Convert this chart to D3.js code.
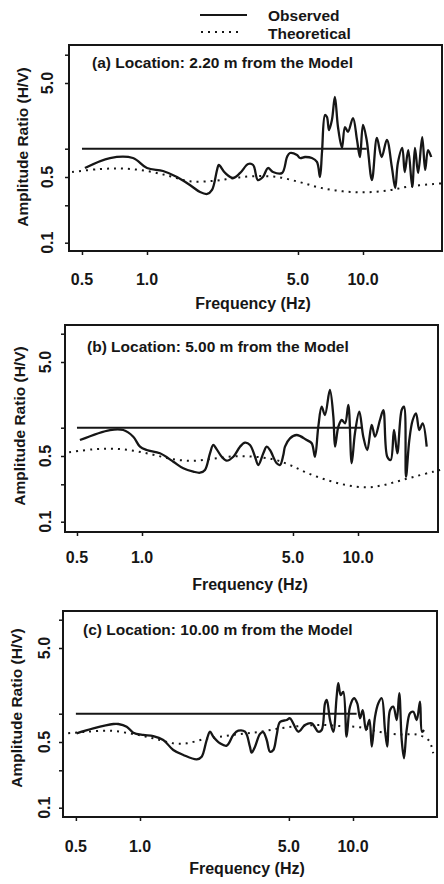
<!DOCTYPE html>
<html><head><meta charset="utf-8">
<script src="https://cdn.jsdelivr.net/npm/d3@7"></script>
<style>
body{margin:0;background:#fff}
text{font-family:"Liberation Sans",Arial,Helvetica,sans-serif;font-weight:bold;fill:#161616}
</style>
</head><body>
<svg id="chart" width="444" height="884"></svg>
<script>
// ---------- data ----------
const seriesNames = ["Observed", "Theoretical"];
const panelTitles = [
  "(a) Location: 2.20 m from the Model",
  "(b) Location: 5.00 m from the Model",
  "(c) Location: 10.00 m from the Model"
];
const xTitle = "Frequency (Hz)";
const yTitle = "Amplitude Ratio (H/V)";
const xTicks = [0.5, 1, 5, 10];
const xTickLabels = ["0.5", "1.0", "5.0", "10.0"];
const yTicks = [0.1, 0.25, 0.5, 1, 5, 10];
const yTickLabels = ["0.1", "", "0.5", "", "5.0", ""];

// horizontal reference line (H/V = 1)
const refFreq = [0.5, 10.4];
const refValue = [1, 1];

// (a) 2.20 m
const obsA_f = [0.516,0.674,0.861,1.0,1.186,1.377,1.58,1.76,1.90,2.0,2.11,2.15,2.30,2.50,2.70,2.94,3.10,3.26,3.44,3.63,3.83,4.22,4.45,4.59,4.95,5.11,5.39,5.80,6.12,6.32,6.46,6.67,6.81,6.96,7.18,7.41,7.66,7.99,8.25,8.52,8.99,9.38,9.68,10.0,10.4,11.0,11.6,12.2,12.9,13.6,14.1,14.5,15.2,15.6,16.2,16.9,17.4,18.0,18.8,19.4,20.0,20.7];
const obsA_v = [0.623,0.796,0.796,0.623,0.579,0.5,0.411,0.346,0.330,0.364,0.594,0.671,0.552,0.488,0.552,0.687,0.671,0.464,0.5,0.623,0.565,0.552,0.816,0.9,0.857,0.796,0.816,0.796,0.723,0.5,0.922,2.28,2.17,1.58,2.02,3.55,1.70,1.02,1.70,1.51,2.12,1.24,0.816,1.79,1.24,0.464,1.30,0.816,1.24,0.638,0.382,0.705,1.02,0.565,0.968,0.392,1.02,0.552,1.33,0.594,0.968,0.816];
const thA_f = [0.45,0.606,0.774,1.0,1.278,1.58,2.02,2.5,3.1,4.0,5.11,6.32,8.08,10.4,13.3,16.5,21.1,23.7];
const thA_v = [0.565,0.608,0.615,0.579,0.51,0.45,0.455,0.485,0.51,0.5,0.44,0.385,0.352,0.344,0.362,0.398,0.42,0.43];

// (b) 5.00 m
const obsB_f = [0.516,0.711,0.819,0.911,0.979,1.051,1.211,1.396,1.553,1.728,1.856,1.957,2.064,2.138,2.218,2.339,2.466,2.647,2.843,2.999,3.162,3.336,3.455,3.644,3.778,3.913,4.204,4.355,4.511,4.592,4.842,5.20,5.788,6.105,6.32,6.55,6.79,7.03,7.41,7.69,7.83,8.11,8.41,8.71,9.02,9.35,9.68,10.14,10.58,11.04,11.57,11.99,12.64,13.1,13.66,14.17,14.68,15.2,15.93,16.33,16.68,17.28,17.92,18.56,19.22,19.93,20.8];
const obsB_v = [0.740,0.945,0.945,0.802,0.628,0.579,0.534,0.435,0.370,0.341,0.332,0.355,0.534,0.655,0.589,0.491,0.446,0.491,0.628,0.693,0.655,0.491,0.401,0.534,0.628,0.579,0.418,0.401,0.512,0.628,0.771,0.836,0.740,0.683,0.491,1.025,1.672,1.365,2.518,1.309,0.628,1.025,1.208,1.114,1.744,0.418,0.872,1.48,0.802,0.579,1.069,0.802,1.208,1.542,0.491,0.453,0.945,0.534,1.542,1.672,0.301,0.740,1.208,1.422,0.945,1.114,0.628];
const thB_f = [0.46,0.595,0.736,0.912,1.128,1.396,1.728,2.14,2.65,3.27,4.05,4.84,5.79,7.16,8.87,10.97,13.1,15.6,18.7,22.3,24.0];
const thB_v = [0.547,0.589,0.598,0.569,0.516,0.461,0.445,0.468,0.495,0.492,0.461,0.401,0.332,0.278,0.245,0.232,0.245,0.273,0.306,0.340,0.355];

// (c) 10.00 m
const obsC_f = [0.504,0.604,0.750,0.791,0.866,0.930,1.036,1.154,1.286,1.433,1.597,1.846,1.948,2.056,2.132,2.209,2.375,2.553,2.742,2.894,3.111,3.281,3.342,3.467,3.659,3.793,3.935,4.077,4.226,4.383,4.540,4.883,5.06,5.54,5.95,6.40,6.87,7.13,7.39,7.53,7.80,8.08,8.38,8.53,8.75,9.0,9.33,9.68,10.11,10.47,10.79,11.11,11.51,11.94,12.25,12.69,13.15,13.64,14.13,14.49,14.92,15.46,16.04,16.49,16.93,17.35,17.86,18.52,19.19,19.91,20.63,21.09,21.55];
const obsC_v = [0.619,0.699,0.777,0.777,0.727,0.628,0.594,0.579,0.525,0.411,0.364,0.327,0.349,0.525,0.643,0.569,0.484,0.457,0.594,0.659,0.643,0.446,0.385,0.446,0.608,0.634,0.525,0.394,0.411,0.594,0.816,0.857,0.894,0.643,0.759,0.790,0.643,0.671,1.29,1.40,0.857,0.643,1.52,2.11,1.58,1.71,0.569,1.19,1.46,1.29,0.894,1.09,0.671,0.857,0.446,0.929,1.29,1.46,0.671,0.446,1.09,1.19,0.857,1.65,0.525,0.336,0.671,1.01,1.05,0.857,1.34,0.643,0.671];
const thC_f = [0.46,0.562,0.723,0.930,1.154,1.433,1.656,1.982,2.375,2.948,3.659,4.54,5.64,7.0,8.69,10.79,13.39,16.62,19.91,22.6,23.4,23.8];
const thC_v = [0.619,0.643,0.659,0.608,0.547,0.484,0.484,0.534,0.569,0.608,0.643,0.699,0.740,0.759,0.740,0.716,0.64,0.60,0.60,0.525,0.446,0.38];

// ---------- layout (drawing only) ----------
const panels = [
  {title: panelTitles[0], obsF: obsA_f, obsV: obsA_v, thF: thA_f, thV: thA_v,
   L: 69, R: 442, T: 45, B: 251, x1: 147, x10: 363, y05: 177, y5: 83,
   titleX: 92, titleY: 68, ylabX: 22, ylabY: 147, ytlX: 47, xtlY: 285, xtX: 253, xtY: 309},
  {title: panelTitles[1], obsF: obsB_f, obsV: obsB_v, thF: thB_f, thV: thB_v,
   L: 65, R: 438, T: 325, B: 532, x1: 142, x10: 358, y05: 456, y5: 362,
   titleX: 87, titleY: 352, ylabX: 19, ylabY: 426, ytlX: 45, xtlY: 563, xtX: 250, xtY: 590},
  {title: panelTitles[2], obsF: obsC_f, obsV: obsC_v, thF: thC_f, thV: thC_v,
   L: 63, R: 437, T: 611, B: 817, x1: 140, x10: 353, y05: 742, y5: 648,
   titleX: 83, titleY: 635, ylabX: 16, ylabY: 708, ytlX: 44, xtlY: 852, xtX: 247, xtY: 874}
];

const ink = "#161616";
const fs = 15.5;
const svg = d3.select("#chart");

// legend
const lg = svg.append("g");
lg.append("line").attr("x1", 200).attr("x2", 247).attr("y1", 15).attr("y2", 15)
  .attr("stroke", ink).attr("stroke-width", 1.8);
lg.append("line").attr("x1", 201).attr("x2", 243).attr("y1", 32).attr("y2", 32)
  .attr("stroke", ink).attr("stroke-width", 2).attr("stroke-dasharray", "2,5");
lg.append("text").attr("x", 268).attr("y", 21).attr("font-size", fs).text(seriesNames[0]);
lg.append("text").attr("x", 268).attr("y", 39).attr("font-size", fs).text(seriesNames[1]);

panels.forEach(p => {
  const x = d3.scaleLog().domain([1, 10]).range([p.x1, p.x10]);
  const y = d3.scaleLog().domain([0.5, 5]).range([p.y05, p.y5]);
  const g = svg.append("g");

  // frame
  g.append("rect").attr("x", p.L).attr("y", p.T).attr("width", p.R - p.L).attr("height", p.B - p.T)
    .attr("fill", "none").attr("stroke", ink).attr("stroke-width", 2);

  // y axis
  const ya = g.append("g").attr("transform", `translate(${p.L},0)`)
    .call(d3.axisLeft(y).tickValues(yTicks).tickSize(4).tickSizeOuter(0).tickFormat(""));
  ya.select(".domain").remove();
  ya.selectAll("line").attr("stroke", ink).attr("stroke-width", 1.5);
  yTicks.forEach((t, i) => {
    if (!yTickLabels[i]) return;
    g.append("text").attr("transform", `translate(${p.ytlX},${y(t)}) rotate(-90)`)
      .attr("text-anchor", "middle").attr("dominant-baseline", "central")
      .attr("font-size", 16).text(yTickLabels[i]);
  });

  // x axis
  const xa = g.append("g").attr("transform", `translate(0,${p.B})`)
    .call(d3.axisBottom(x).tickValues(xTicks).tickSize(4).tickSizeOuter(0).tickFormat(""));
  xa.select(".domain").remove();
  xa.selectAll("line").attr("stroke", ink).attr("stroke-width", 1.5);
  xTicks.forEach((t, i) => {
    g.append("text").attr("x", x(t)).attr("y", p.xtlY).attr("text-anchor", "middle")
      .attr("font-size", 16).text(xTickLabels[i]);
  });

  // axis titles
  g.append("text").attr("x", p.xtX).attr("y", p.xtY).attr("text-anchor", "middle")
    .attr("font-size", 16).text(xTitle);
  g.append("text").attr("transform", `translate(${p.ylabX},${p.ylabY}) rotate(-90)`)
    .attr("text-anchor", "middle").attr("dominant-baseline", "central")
    .attr("font-size", fs).text(yTitle);

  // panel title
  g.append("text").attr("x", p.titleX).attr("y", p.titleY).attr("font-size", fs).text(p.title);

  // reference line
  const ref = refFreq.map((f, i) => [f, refValue[i]]);
  g.append("path").datum(ref)
    .attr("d", d3.line().x(d => x(d[0])).y(d => y(d[1])))
    .attr("fill", "none").attr("stroke", ink).attr("stroke-width", 2);

  // theoretical
  const th = p.thF.map((f, i) => [f, p.thV[i]]);
  g.append("path").datum(th)
    .attr("d", d3.line().curve(d3.curveCatmullRom.alpha(0.5)).x(d => x(d[0])).y(d => y(d[1])))
    .attr("fill", "none").attr("stroke", ink).attr("stroke-width", 2).attr("stroke-dasharray", "2,5");

  // observed
  const ob = p.obsF.map((f, i) => [f, p.obsV[i]]);
  g.append("path").datum(ob)
    .attr("d", d3.line().curve(d3.curveCatmullRom.alpha(0.5)).x(d => x(d[0])).y(d => y(d[1])))
    .attr("fill", "none").attr("stroke", ink).attr("stroke-width", 2.3).attr("stroke-linejoin", "round");
});
</script>
</body></html>
